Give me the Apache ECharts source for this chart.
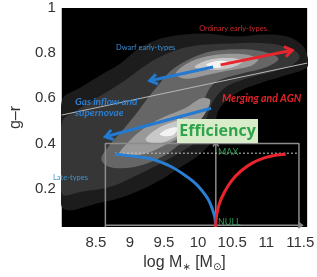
<!DOCTYPE html>
<html>
<head>
<meta charset="utf-8">
<script src="https://cdn.jsdelivr.net/npm/echarts@6/dist/echarts.min.js"></script>
<style>
  html, body { margin: 0; padding: 0; background: #fff; }
  #chart { width: 317px; height: 277px; }
</style>
</head>
<body>
<div id="chart"></div>
<script>
// tick labels
const xTicks = [8.5, 9, 9.5, 10, 10.5, 11, 11.5]
const yTicks = [0.2, 0.4, 0.6, 0.8, 1]

// density contours (log M*, g-r), outer -> inner
const contourOuter = [[8.00,0.587],[8.30,0.652],[8.58,0.704],[8.85,0.752],[9.16,0.826],[9.53,0.870],[10.08,0.887],[10.56,0.874],[10.97,0.883],[11.31,0.874],[11.53,0.835],[11.60,0.791],[11.60,0.739],[11.31,0.704],[10.93,0.669],[10.63,0.635],[10.42,0.591],[10.29,0.539],[10.25,0.469],[10.19,0.404],[10.01,0.348],[9.74,0.295],[9.40,0.230],[8.99,0.173],[8.58,0.139],[8.00,0.121]]
const contourMid = [[8.00,0.491],[8.23,0.548],[8.58,0.613],[8.92,0.678],[9.26,0.752],[9.53,0.796],[9.88,0.830],[10.49,0.843],[11.04,0.843],[11.38,0.817],[11.49,0.783],[11.38,0.748],[11.04,0.713],[10.70,0.687],[10.42,0.652],[10.25,0.600],[10.15,0.535],[10.08,0.469],[9.99,0.413],[9.74,0.361],[9.40,0.304],[9.05,0.252],[8.71,0.208],[8.30,0.187],[8.00,0.178]]
const contourInner = [[8.58,0.330],[8.71,0.395],[8.92,0.469],[9.10,0.535],[9.26,0.600],[9.40,0.652],[9.60,0.722],[9.88,0.774],[10.22,0.809],[10.70,0.817],[11.04,0.800],[11.18,0.774],[11.01,0.739],[10.63,0.709],[10.29,0.678],[10.15,0.635],[10.08,0.578],[10.01,0.522],[9.88,0.448],[9.67,0.382],[9.40,0.330],[9.05,0.295],[8.71,0.295]]
const ridgeEarly = [[9.67,0.709],[9.88,0.761],[10.22,0.791],[10.63,0.796],[10.88,0.774],[10.77,0.743],[10.42,0.722],[10.08,0.700],[9.81,0.687]]
const ridgeLate = [[8.85,0.352],[9.01,0.417],[9.26,0.478],[9.53,0.522],[9.81,0.556],[10.05,0.600],[10.18,0.591],[10.08,0.522],[9.84,0.448],[9.53,0.395],[9.19,0.352]]
const peakEarly = [[9.95,0.739],[10.15,0.770],[10.47,0.778],[10.66,0.765],[10.52,0.739],[10.22,0.726]]
const peakLate = [[9.23,0.417],[9.40,0.465],[9.64,0.496],[9.86,0.509],[9.84,0.465],[9.62,0.421],[9.40,0.400]]
const coreEarly = [[10.12,0.748],[10.27,0.765],[10.44,0.761],[10.30,0.735]]
const coreLate = [[9.44,0.439],[9.56,0.465],[9.70,0.469],[9.62,0.435]]

// efficiency curves
const blueCurve = [[8.78,0.352],[9.05,0.343],[9.33,0.330],[9.60,0.298],[9.78,0.265],[9.94,0.229],[10.05,0.194],[10.15,0.152],[10.20,0.117],[10.245,0.073],[10.258,0.03]]
const redCurve = [[10.258,0.03],[10.272,0.082],[10.313,0.134],[10.382,0.182],[10.491,0.234],[10.628,0.278],[10.793,0.313],[10.971,0.336],[11.134,0.348],[11.285,0.352]]

// arrows: [x0, y0, x1(tip), y1(tip)]
const redArrows = [[10.33, 0.748, 11.38, 0.813]]
const blueArrows = [[10.22, 0.739, 9.29, 0.678], [10.19, 0.556, 8.64, 0.430]]
// inset axes (x: stellar mass, y: efficiency)
const insetAxes = [[8.64, 0.038, 11.53, 0.038], [10.26, 0.03, 10.26, 0.405]]

// divider line between sequences
const dividerLine = [[8.0, 0.526], [11.6, 0.756]]

// inset box
const boxX = [8.64, 11.48]
const boxTop = 0.40
const boxBottom = 0.03
const maxLevel = 0.357
const maxFrom = 8.78

const shades = ['#1c1c1c', '#363636', '#666666', '#999999', '#c8c8c8', '#f3f3f3']
const layers = [
  [contourOuter, 0], [contourMid, 1], [contourInner, 2],
  [ridgeEarly, 3], [ridgeLate, 3],
  [peakEarly, 4], [peakLate, 4],
  [coreEarly, 5], [coreLate, 5],
]

const chart = echarts.init(document.getElementById('chart'))

const arrowItem = (color, width, len) => (params, api) => {
  const a = api.coord([api.value(0), api.value(1)])
  const b = api.coord([api.value(2), api.value(3)])
  const ang = Math.atan2(b[1] - a[1], b[0] - a[0])
  const spread = 0.6
  const p1 = [b[0] - len * Math.cos(ang - spread), b[1] - len * Math.sin(ang - spread)]
  const p2 = [b[0] - len * Math.cos(ang + spread), b[1] - len * Math.sin(ang + spread)]
  return {
    type: 'group',
    children: [
      { type: 'line', shape: { x1: a[0], y1: a[1], x2: b[0], y2: b[1] }, style: { stroke: color, lineWidth: width } },
      { type: 'polyline', shape: { points: [p1, b, p2] }, style: { stroke: color, lineWidth: width, fill: null, lineJoin: 'miter' } },
    ],
  }
}

const boxStyle = { color: '#8c8c8c', width: 1.5 }
const txt = (text, x, y, size, color, extra) => ({
  type: 'text', z: 100, x, y,
  style: Object.assign({ text, fill: color, fontSize: size, fontFamily: 'Lato', verticalAlign: 'middle' }, extra || {}),
})

const option = {
  animation: false,
  grid: { left: 48, top: 8, right: 6, bottom: 46, show: true, backgroundColor: '#000', borderWidth: 0 },
  xAxis: {
    type: 'value', min: 8, max: 11.6,
    axisLine: { show: false }, axisTick: { show: false }, splitLine: { show: false },
    axisLabel: { customValues: xTicks, fontSize: 15, color: '#333', margin: 8, fontFamily: 'Liberation Sans' },
    name: '{n|log M}{s|∗}{n| [M}{s|⊙}{n|]}',
    nameLocation: 'middle', nameGap: 27,
    nameTextStyle: {
      rich: {
        n: { fontSize: 16, color: '#333', fontFamily: 'Liberation Sans' },
        s: { fontSize: 10, color: '#333', fontFamily: 'DejaVu Sans', padding: [8, 0, 0, 0] },
      },
    },
  },
  yAxis: {
    type: 'value', min: 0.03, max: 1,
    axisLine: { show: false }, axisTick: { show: false }, splitLine: { show: false },
    axisLabel: { customValues: yTicks, fontSize: 15, color: '#333', margin: 6, fontFamily: 'Liberation Sans' },
    name: 'g–r', nameLocation: 'middle', nameGap: 30,
    nameTextStyle: { fontSize: 16, color: '#333', fontFamily: 'Liberation Sans' },
  },
  series: [
    {
      type: 'custom', clip: true, z: 1,
      data: layers.map((_, i) => [i]),
      renderItem: (params, api) => {
        const [pts, shade] = layers[params.dataIndex]
        return {
          type: 'polygon',
          shape: { points: pts.map((p) => api.coord(p)), smooth: 0.35 },
          style: { fill: shades[shade] },
        }
      },
    },
    {
      type: 'line', data: dividerLine, showSymbol: false, silent: true, z: 3,
      lineStyle: { color: '#b8b8b8', width: 1 },
    },
    {
      type: 'line', showSymbol: false, silent: true, z: 3,
      data: [[boxX[0], boxBottom], [boxX[0], boxTop], [boxX[1], boxTop], [boxX[1], boxBottom]],
      lineStyle: boxStyle,
    },
    { type: 'custom', data: insetAxes, renderItem: arrowItem('#8c8c8c', 1.5, 5), z: 3, clip: false },
    {
      type: 'line', showSymbol: false, silent: true, z: 3,
      data: [[maxFrom, maxLevel], [boxX[1], maxLevel]],
      lineStyle: { color: '#c8c8c8', width: 1, type: [2, 2] },
    },
    {
      type: 'line', data: blueCurve, smooth: 0.3, showSymbol: false, silent: true, z: 4,
      lineStyle: { color: '#2a7fd2', width: 3 },
    },
    {
      type: 'line', data: redCurve, smooth: 0.3, showSymbol: false, silent: true, z: 4,
      lineStyle: { color: '#e8252c', width: 3 },
    },
    { type: 'custom', data: redArrows, renderItem: arrowItem('#e8252c', 3, 9), z: 5, clip: false },
    { type: 'custom', data: blueArrows, renderItem: arrowItem('#237ad0', 3, 9), z: 5, clip: false },
  ],
  graphic: [
    { type: 'rect', z: 100, shape: { x: 177, y: 119, width: 81, height: 24 }, style: { fill: '#d9ecca' } },
    txt('Efficiency', 217.5, 131.5, 16, '#2fa34b', { align: 'center', fontWeight: 'bold', fontFamily: 'Open Sans' }),
    txt('Ordinary early-types', 233, 29, 7.5, '#c92a2e', { align: 'center' }),
    txt('Dwarf early-types', 116, 48, 7.5, '#3b8fd8'),
    txt('Gas inflow and', 75, 102, 10, '#2a7fd3', { fontWeight: 'bold', fontStyle: 'italic' }),
    txt('supernovae', 75, 113, 10, '#2a7fd3', { fontWeight: 'bold', fontStyle: 'italic' }),
    txt('Merging and AGN', 222, 99, 10.5, '#e3232b', { fontWeight: 'bold', fontStyle: 'italic' }),
    txt('MAX', 218, 152, 9, '#2e9e55'),
    txt('NULL', 218, 222, 9, '#2e9e55'),
    txt('Late-types', 53, 178, 7.5, '#3a98d4'),
  ],
}

chart.setOption(option)
</script>
</body>
</html>
